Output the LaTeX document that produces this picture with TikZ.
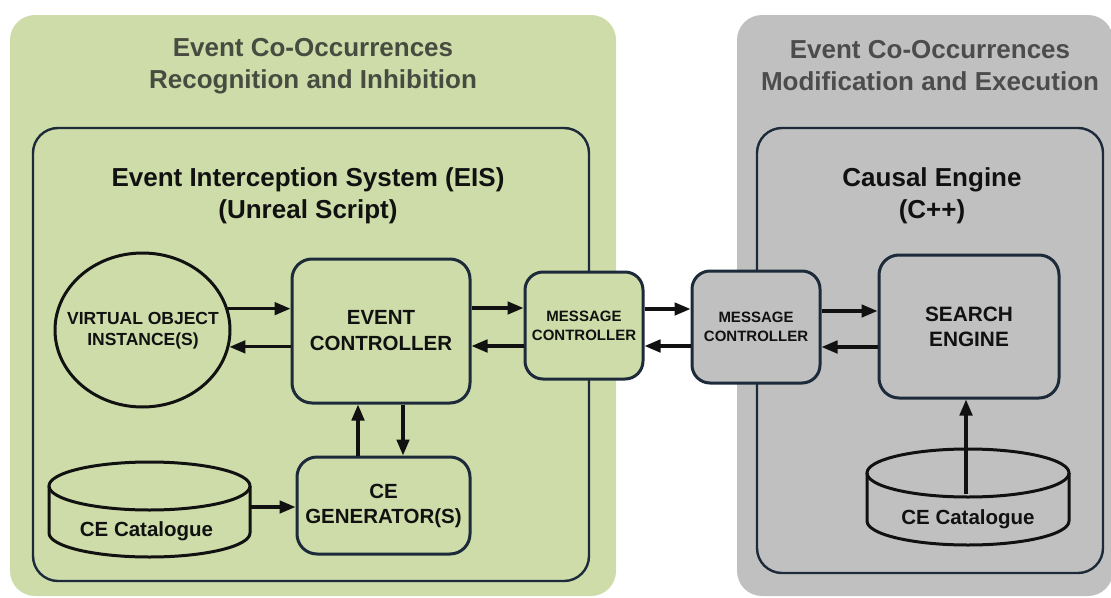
\documentclass[tikz,border=0pt]{standalone}
\usepackage{fontspec}
\setmainfont{Liberation Sans}
\usetikzlibrary{arrows.meta,shapes.geometric}

\definecolor{panelgreen}{RGB}{205,220,169}
\definecolor{panelgray}{RGB}{192,192,192}
\definecolor{edgenavy}{RGB}{28,42,58}
\definecolor{titlegray}{RGB}{72,76,64}
\definecolor{ink}{RGB}{17,17,17}

\tikzset{
  panel/.style={draw=none, rounded corners=25pt, inner sep=0pt},
  frame/.style={draw=edgenavy, line width=2.4pt, rounded corners=25pt, inner sep=0pt},
  paneltitle/.style={font=\bfseries\fontsize{26}{32}\selectfont, text=titlegray, align=center},
  frametitle/.style={font=\bfseries\fontsize{26}{32}\selectfont, text=ink, align=center},
  block/.style={draw=edgenavy, line width=3pt, rounded corners=20pt, inner sep=0pt,
    align=center, text=ink, font=\bfseries\fontsize{20.5}{26}\selectfont},
  msgblock/.style={block, rounded corners=18pt, font=\bfseries\fontsize{15}{19}\selectfont},
  can/.style={draw=ink, line width=3pt},
  cantext/.style={text=ink, font=\bfseries\fontsize{20.5}{25}\selectfont},
  arr/.style={draw=ink, line width=3.2pt, -{Triangle[length=16pt,width=12.5pt]}}
}

\begin{document}
\begin{tikzpicture}[x=1pt,y=-1pt]
\useasboundingbox (0,0) rectangle (1111,597);

% background panels
\node[panel, fill=panelgreen, minimum width=606pt, minimum height=581pt] (pgreen) at (313,305.5) {};
\node[panel, fill=panelgray, minimum width=376pt, minimum height=581pt] (pgray) at (925,305.5) {};

\node[paneltitle] (tgreen) at (313,66) {Event Co-Occurrences\\Recognition and Inhibition};
\node[paneltitle, text=black!70] (tgray) at (930,66) {Event Co-Occurrences\\Modification and Execution};

% subsystem frames
\node[frame, minimum width=556pt, minimum height=453pt] (eis) at (311,354.5) {};
\node[frame, minimum width=346pt, minimum height=445pt] (ce) at (930,350.5) {};

\node[frametitle] (teis) at (308,196) {Event Interception System (EIS)\\(Unreal Script)};
\node[frametitle] (tce) at (932,196) {Causal Engine\\(C++)};

% virtual object instances
\node[draw=ink, line width=3pt, ellipse, minimum width=175pt, minimum height=154pt, inner sep=0pt] (vo) at (142.5,330) {};
\node[text=ink, align=center, font=\bfseries\fontsize{17.5}{21}\selectfont] (votxt) at (143,331) {VIRTUAL OBJECT\\INSTANCE(S)};

% blocks
\node[block, minimum width=178pt, minimum height=144pt] (ec) at (381,331) {EVENT\\CONTROLLER};
\node[block, minimum width=173pt, minimum height=97pt, font=\bfseries\fontsize{20.5}{25}\selectfont] (ceg) at (383.5,505.5) {CE\\GENERATOR(S)};
\node[msgblock, fill=panelgreen, minimum width=118pt, minimum height=107pt] (mcl) at (584,325.5) {MESSAGE\\CONTROLLER};
\node[msgblock, fill=panelgray, minimum width=128pt, minimum height=112pt] (mcr) at (756,327) {MESSAGE\\CONTROLLER};
\node[block, minimum width=180pt, minimum height=143pt, font=\bfseries\fontsize{20.8}{25}\selectfont] (se) at (969,326.5) {SEARCH\\ENGINE};

% catalogue stores
\node[inner sep=0pt, minimum width=201pt, minimum height=95pt] (cat1) at (149.5,509.5) {};
\draw[can] (149.5,486) ellipse [x radius=100.5, y radius=24];
\draw[can] (49,486) -- (49,533) arc[start angle=180, end angle=0, x radius=100.5, y radius=24] -- (250,486);
\node[cantext] (cat1txt) at (146.5,531) {CE Catalogue};

\node[inner sep=0pt, minimum width=202pt, minimum height=96pt] (cat2) at (968,497) {};
\draw[can] (968,473) ellipse [x radius=101, y radius=24];
\draw[can] (867,473) -- (867,521) arc[start angle=180, end angle=0, x radius=101, y radius=24] -- (1069,473);
\node[cantext] (cat2txt) at (968,519) {CE Catalogue};
\coordinate (cat2in) at (966,494);

% connectors
\draw[arr] (vo.14) -- (vo.14 -| ec.west);
\draw[arr] (ec.west |- vo.-11) -- (vo.-11);
\draw[arr] (ec.east |- 0,308) -- (mcl.west |- 0,308);
\draw[arr] (mcl.west |- 0,346) -- (ec.east |- 0,346);
\draw[arr] (mcl.east |- 0,309) -- (mcr.west |- 0,309);
\draw[arr] (mcr.west |- 0,346) -- (mcl.east |- 0,346);
\draw[arr] (mcr.east |- 0,311) -- (se.west |- 0,311);
\draw[arr] (se.west |- 0,347) -- (mcr.east |- 0,347);
\draw[arr] (ceg.north -| 358,0) -- (ec.south -| 358,0);
\draw[arr] (ec.south -| 403,0) -- (ceg.north -| 403,0);
\draw[arr] (cat1.east |- 0,507) -- (ceg.west |- 0,507);
\draw[arr] (cat2in) -- (se.south -| cat2in);
\end{tikzpicture}
\end{document}
